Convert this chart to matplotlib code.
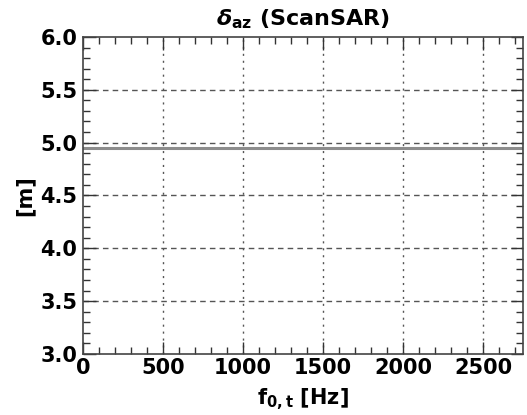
import matplotlib
matplotlib.use("Agg")
import matplotlib.pyplot as plt
from matplotlib.ticker import MultipleLocator

# doppler centroid frequency [Hz] and azimuth resolution [m]
f0 = [0, 2750]
delta_az = [4.95, 4.95]

xticks = [0, 500, 1000, 1500, 2000, 2500]
yticks = [3.0, 3.5, 4.0, 4.5, 5.0, 5.5, 6.0]

plt.rcParams['font.family'] = 'DejaVu Sans'
plt.rcParams['font.weight'] = 'bold'
plt.rcParams['axes.titleweight'] = 'bold'
plt.rcParams['axes.labelweight'] = 'bold'
plt.rcParams['mathtext.default'] = 'bf'

fig = plt.figure(figsize=(5.27, 4.15), dpi=100)
ax = fig.add_axes([0.1575, 0.147, 0.835, 0.764])

ax.plot(f0, delta_az, color='#8c8c8c', lw=2.2)

ax.set_xlim(0, 2750)
ax.set_ylim(3.0, 6.0)
ax.set_xticks(xticks)
ax.set_yticks(yticks)
ax.set_yticklabels(["%.1f" % v for v in yticks])
ax.xaxis.set_minor_locator(MultipleLocator(100))
ax.yaxis.set_minor_locator(MultipleLocator(0.1))

ax.tick_params(which='both', direction='in', top=True, right=True,
               labelsize=15, width=1, color='#333333')
ax.tick_params(which='major', length=9, pad=4)
ax.tick_params(axis='x', which='major', pad=3)
ax.tick_params(which='minor', length=5)

for y in yticks[1:-1]:
    ax.axhline(y, color='#555555', lw=1, ls=(0, (4, 3)), zorder=0)
for x in xticks[1:]:
    ax.axvline(x, color='#555555', lw=1, ls=(0, (1.5, 3.5)), zorder=0)

for s in ax.spines.values():
    s.set_color('#444444')
    s.set_linewidth(1.2)

ax.set_title(r"$\mathit{\delta}_{\mathbf{az}}$ (ScanSAR)", fontsize=16, pad=8)
ax.set_xlabel(r"f$_{\mathbf{0,t}}$ [Hz]", fontsize=15, labelpad=6)
ax.set_ylabel("[m]", fontsize=15, labelpad=4)

fig.savefig("out.png", dpi=100)
